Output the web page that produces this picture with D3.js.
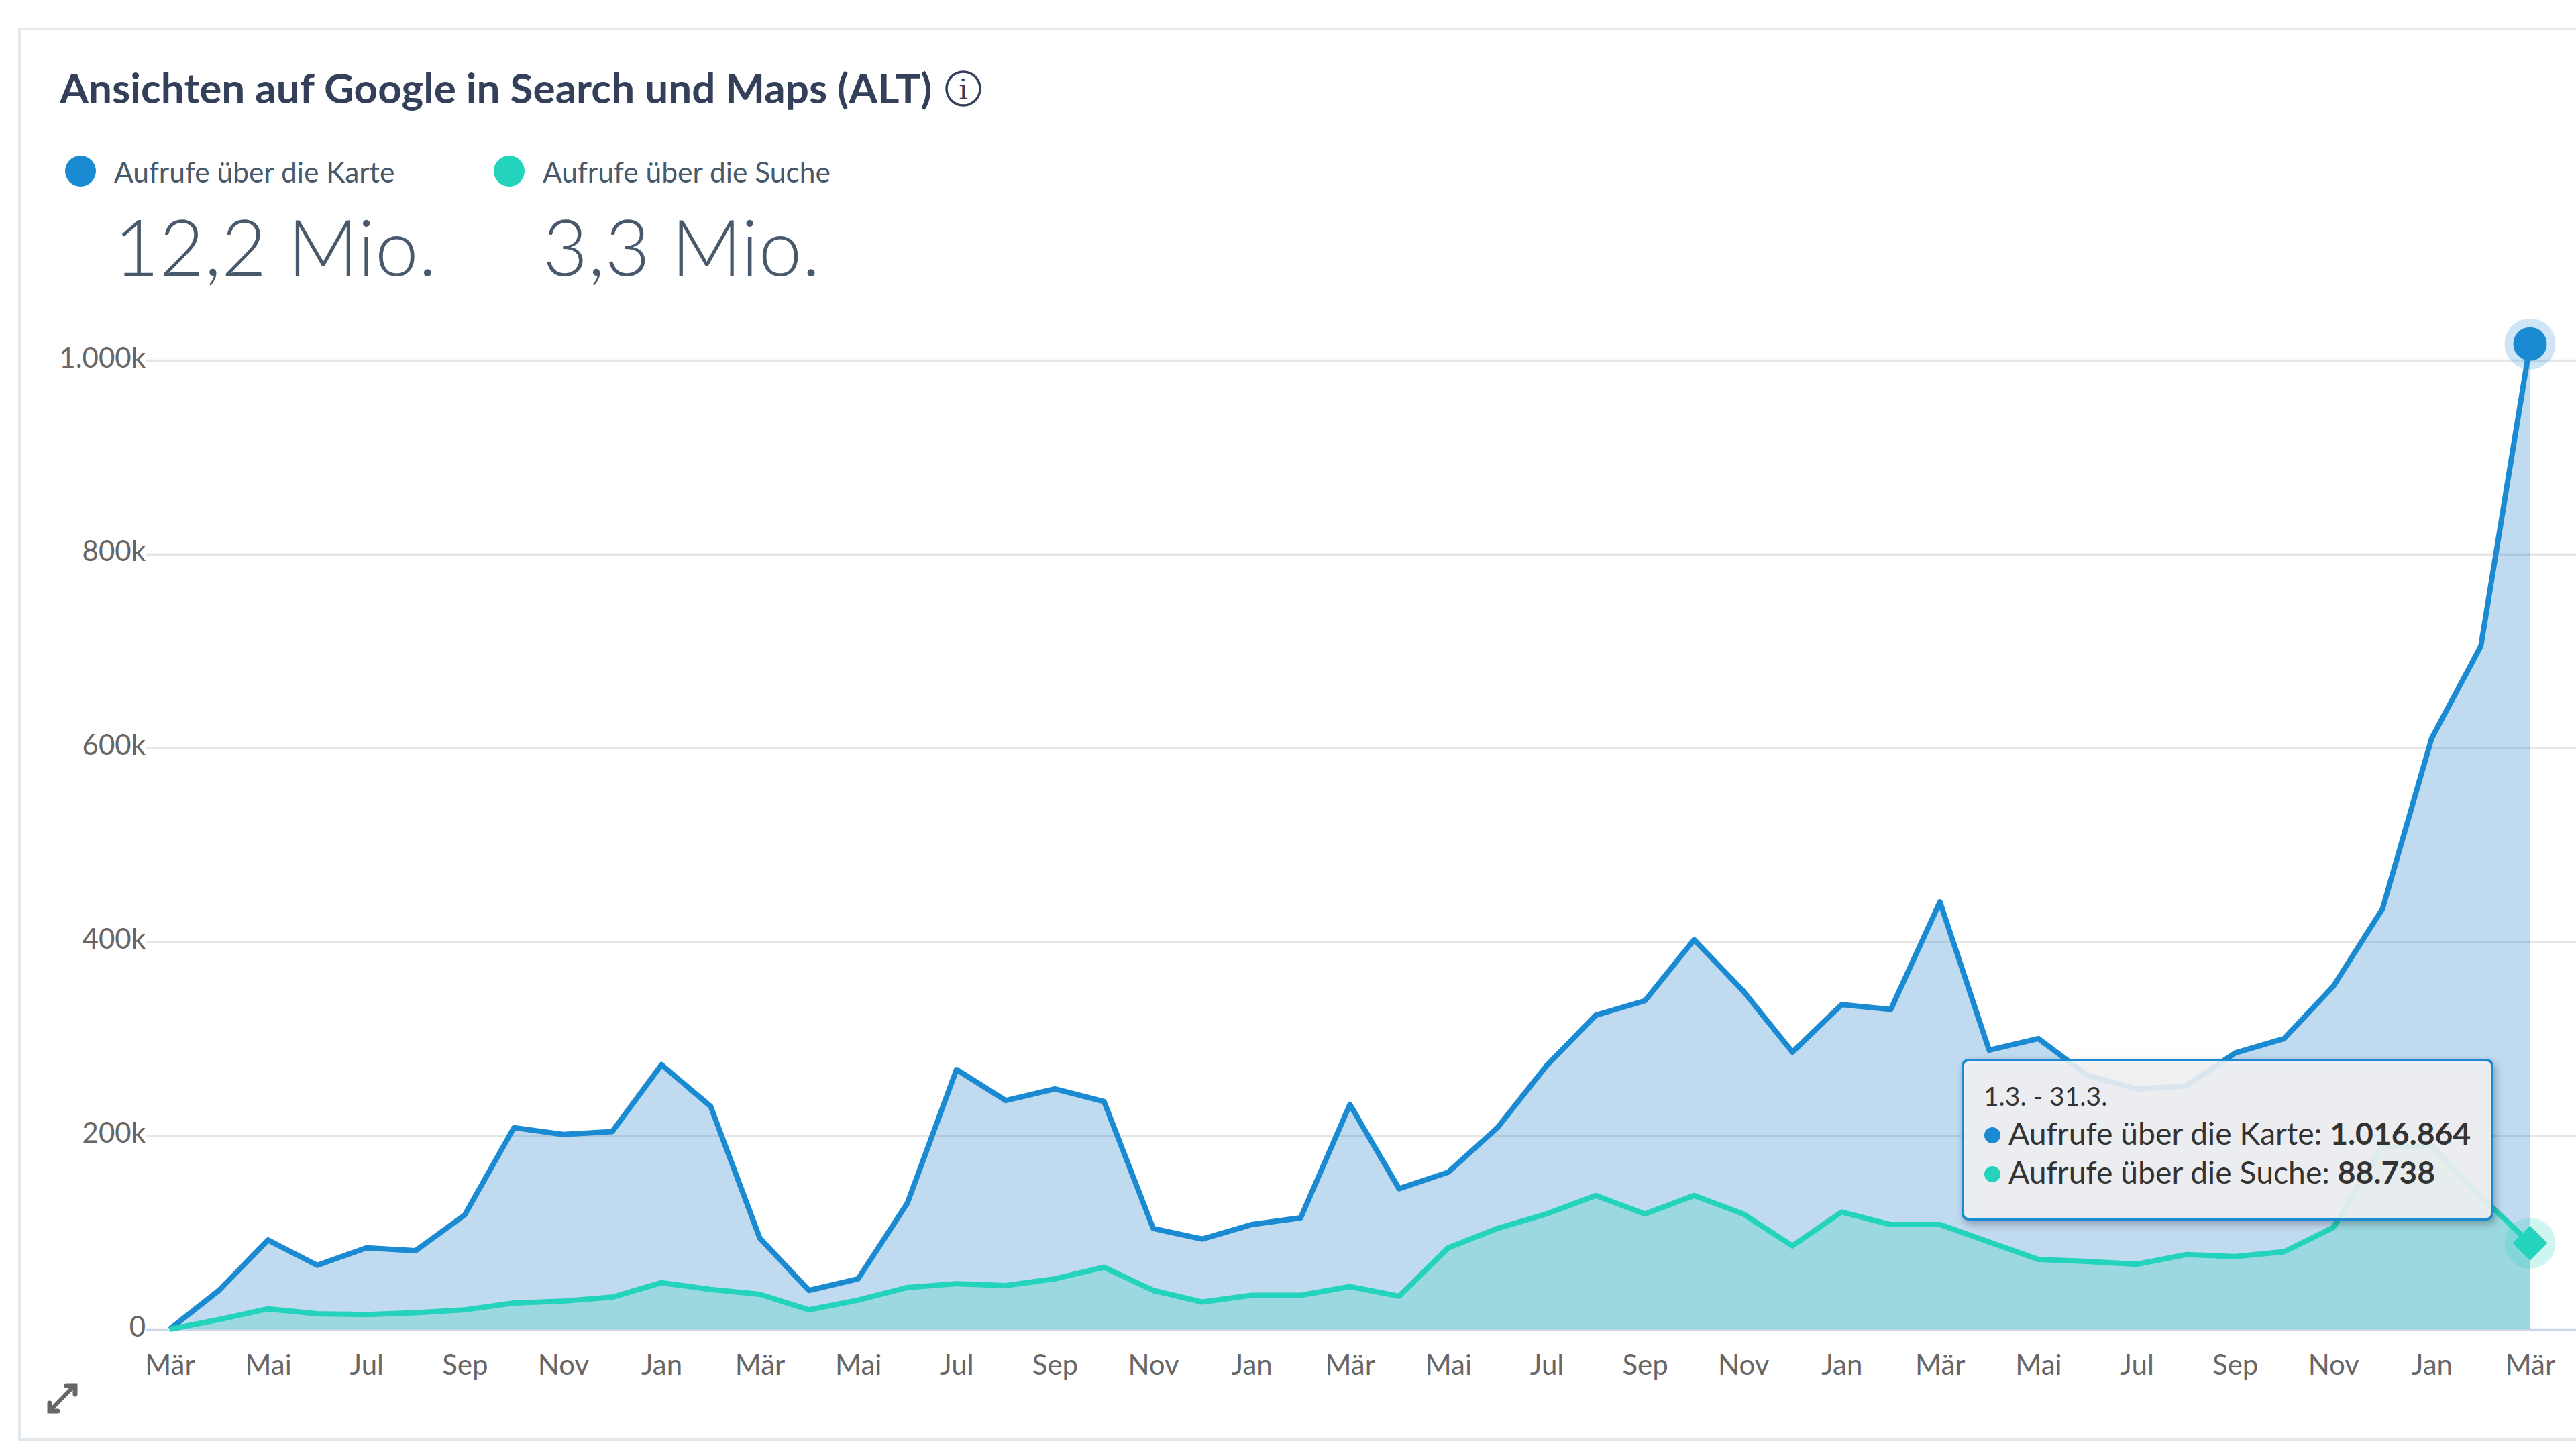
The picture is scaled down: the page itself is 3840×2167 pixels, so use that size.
<!DOCTYPE html>
<meta charset="utf-8">
<script src="https://d3js.org/d3.v7.min.js"></script>
<style>
  body { margin: 0; background: #fff; }
  svg { display: block; font-family: Lato, sans-serif; }
</style>
<div id="my_dataviz"></div>
<script>

    // values in thousands, one per month
    const monthNames = ["Mär", "Apr", "Mai", "Jun", "Jul", "Aug", "Sep", "Okt", "Nov", "Dez", "Jan", "Feb"];
    const kartenValues = [0, 40, 92, 66, 84, 81, 118, 208, 201, 204, 273, 230, 94, 40, 52, 130, 268, 236, 248, 235, 104, 93, 108, 115, 232, 145, 162, 208, 272, 324, 339, 402, 349, 286, 335, 330, 441, 288, 300, 262, 248, 251, 285, 300, 354, 434, 610, 705, 1016.864];
    const suchenValues = [0, 10, 21, 16, 15, 17, 20, 27, 29, 33, 48, 41, 36, 20, 30, 43, 47, 45, 52, 64, 40, 28, 35, 35, 44, 34, 84, 104, 119, 138, 119, 138, 119, 86, 121, 108, 108, 90, 72, 70, 67, 77, 75, 80, 105, 189, 189, 137, 88.738];
    const yTicks = [0, 200, 400, 600, 800, 1000];
    const seriesNames = ["Aufrufe über die Karte", "Aufrufe über die Suche"];
    const seriesTotals = ["12,2 Mio.", "3,3 Mio."];

    const blue = "#1a8ad2", teal = "#23d3bb", slate = "#47596b";
    const W = 3840, H = 2167;

    const svg = d3.select("#my_dataviz")
        .append("svg")
        .attr("width", W)
        .attr("height", H);

    // card border
    svg.append("path")
        .attr("d", `M${W},43H29V2145H${W}`)
        .attr("fill", "none")
        .attr("stroke", "#e3e8ec")
        .attr("stroke-width", 4);

    // scales
    const x = d3.scaleLinear().domain([0, kartenValues.length - 1]).range([253, 3771.5]);
    const y = d3.scaleLinear().domain([0, 1000]).range([1981, 537]);
    const germanFormat = d3.formatLocale({ decimal: ",", thousands: ".", grouping: [3], currency: ["", "€"] }).format(",d");

    // grid and y labels
    const yAxis = svg.append("g")
        .attr("transform", "translate(217,0)")
        .call(d3.axisLeft(y)
            .tickValues(yTicks)
            .tickSize(-(W - 217))
            .tickPadding(0)
            .tickFormat(d => d == 0 ? "0" : germanFormat(d) + "k"));
    yAxis.select(".domain").remove();
    yAxis.selectAll("line").attr("stroke", d => d == 0 ? "#ccd6eb" : "#e6e6e6").attr("stroke-width", 3.5);
    yAxis.selectAll("text")
        .attr("font-family", "Lato, sans-serif")
        .attr("font-size", 42)
        .attr("fill", "#666")
        .attr("dy", "0.24em");

    // x labels
    const xAxis = svg.append("g")
        .attr("transform", "translate(0,1981)")
        .call(d3.axisBottom(x)
            .tickValues(d3.range(0, kartenValues.length, 2))
            .tickSize(0)
            .tickPadding(0)
            .tickFormat(i => monthNames[i % 12]));
    xAxis.select(".domain").remove();
    xAxis.selectAll("text")
        .attr("font-family", "Lato, sans-serif")
        .attr("font-size", 42)
        .attr("fill", "#666")
        .attr("y", 68)
        .attr("dy", 0);

    // areas and lines
    const area = d3.area().x((d, i) => x(i)).y0(y(0)).y1(d => y(d));
    const line = d3.line().x((d, i) => x(i)).y(d => y(d));

    svg.append("path").datum(kartenValues).attr("d", area).attr("fill", "#3083cd").attr("fill-opacity", 0.3);
    svg.append("path").datum(suchenValues).attr("d", area).attr("fill", "#49d3bb").attr("fill-opacity", 0.3);
    svg.append("path").datum(kartenValues).attr("d", line)
        .attr("fill", "none").attr("stroke", blue).attr("stroke-width", 8).attr("stroke-linejoin", "round");
    svg.append("path").datum(suchenValues).attr("d", line)
        .attr("fill", "none").attr("stroke", teal).attr("stroke-width", 8).attr("stroke-linejoin", "round");

    // hovered markers
    const last = kartenValues.length - 1;
    svg.append("circle").attr("cx", x(last)).attr("cy", y(kartenValues[last])).attr("r", 38)
        .attr("fill", blue).attr("fill-opacity", 0.22);
    svg.append("circle").attr("cx", x(last)).attr("cy", y(kartenValues[last])).attr("r", 25)
        .attr("fill", blue);
    svg.append("circle").attr("cx", x(last)).attr("cy", y(suchenValues[last])).attr("r", 38)
        .attr("fill", teal).attr("fill-opacity", 0.22);
    svg.append("path")
        .attr("transform", `translate(${x(last)},${y(suchenValues[last])})`)
        .attr("d", "M0,-26L26,0L0,26L-26,0Z")
        .attr("fill", teal);

    // title and info icon
    svg.append("text").attr("x", 89).attr("y", 154)
        .attr("font-size", 62).attr("font-weight", 700).attr("fill", "#34405a")
        .text("Ansichten auf Google in Search und Maps (ALT)");
    const info = svg.append("g").attr("transform", "translate(1436,132)");
    info.append("circle").attr("r", 25).attr("fill", "none").attr("stroke", "#34405a").attr("stroke-width", 3.5);
    info.append("text").attr("text-anchor", "middle").attr("y", 16)
        .attr("font-family", "'DejaVu Serif', serif").attr("font-size", 42).attr("fill", "#34405a")
        .text("i");

    // legend
    const legend = svg.selectAll(".legendItem")
        .data(seriesNames)
        .enter()
        .append("g")
        .attr("class", "legendItem")
        .attr("transform", (d, i) => `translate(${i == 0 ? 120 : 759},0)`);
    legend.append("circle").attr("cy", 255).attr("r", 23).attr("fill", (d, i) => i == 0 ? blue : teal);
    legend.append("text").attr("x", 50).attr("y", 272)
        .attr("font-size", 42.5).attr("fill", slate)
        .text(d => d);
    legend.append("text").attr("x", 50).attr("y", 411)
        .attr("font-size", 116).attr("font-weight", 300).attr("fill", slate)
        .text((d, i) => seriesTotals[i]);

    // expand icon
    const expand = svg.append("g").attr("stroke", "#666").attr("fill", "none").attr("stroke-linecap", "round");
    expand.append("path").attr("stroke-width", 6).attr("d", "M76,2101L109,2067");
    expand.append("path").attr("stroke-width", 7).attr("d", "M74,2091V2103H86M99,2065H112V2078");

    // tooltip
    const tooltip = svg.append("g").attr("transform", "translate(2926,1580)");
    tooltip.append("rect")
        .attr("width", 789).attr("height", 237).attr("rx", 8)
        .attr("fill", "rgb(247,247,248)").attr("fill-opacity", 0.88)
        .attr("stroke", blue).attr("stroke-width", 4)
        .style("filter", "drop-shadow(3px 5px 6px rgba(0,0,0,0.3))");
    tooltip.append("text").attr("x", 31).attr("y", 68)
        .attr("font-size", 39).attr("fill", "#333")
        .text("1.3. - 31.3.");
    const rows = tooltip.selectAll(".row")
        .data(seriesNames)
        .enter()
        .append("g")
        .attr("class", "row")
        .attr("transform", (d, i) => `translate(0,${i == 0 ? 126 : 184})`);
    rows.append("circle").attr("cx", 44).attr("cy", -14).attr("r", 12)
        .attr("fill", (d, i) => i == 0 ? blue : teal);
    const rowText = rows.append("text").attr("x", 68).attr("font-size", 46.3).attr("fill", "#333");
    rowText.append("tspan").text(d => d + ": ");
    rowText.append("tspan").attr("font-weight", 700)
        .text((d, i) => germanFormat(Math.round((i == 0 ? kartenValues : suchenValues)[last] * 1000)));

</script>
